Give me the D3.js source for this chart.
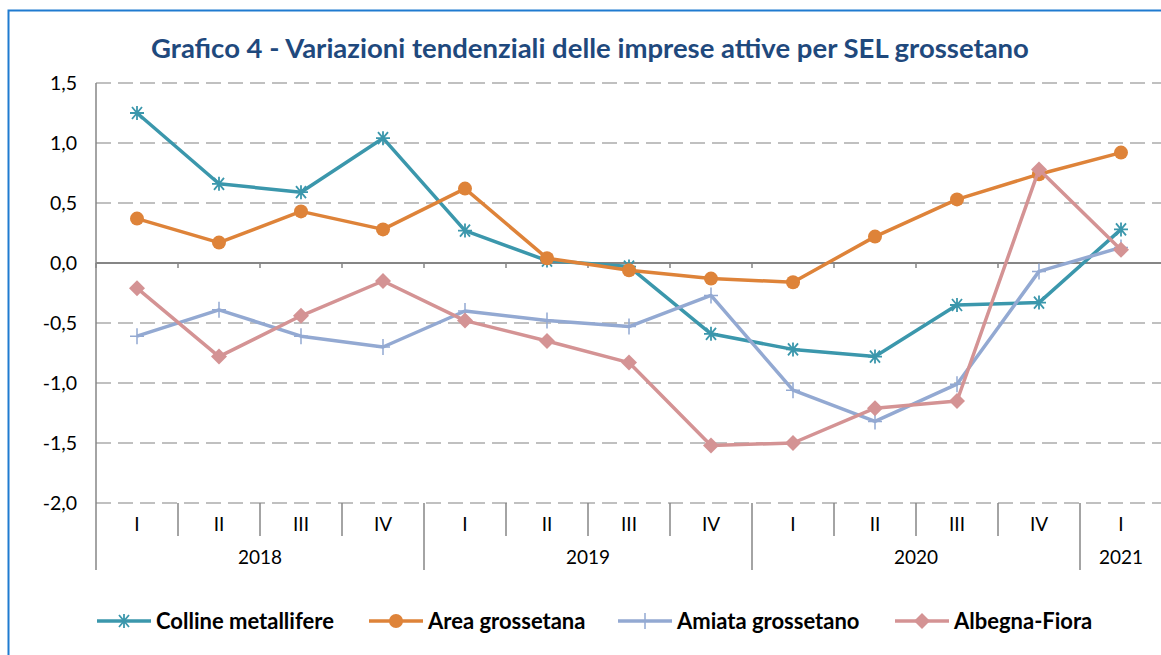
<!DOCTYPE html>
<meta charset="utf-8">
<style>
  body { margin: 0; background: #fff; }
  svg { display: block; font-family: "Lato", "Open Sans", sans-serif; }
</style>
<body>
<script src="https://cdn.jsdelivr.net/npm/d3@7"></script>
<script>

    var width = 1161,
        height = 655;

    // quarters and years
    var quarters = ["I", "II", "III", "IV", "I", "II", "III", "IV", "I", "II", "III", "IV", "I"];
    var years = ["2018", "2019", "2020", "2021"];
    var yearSpan = [4, 4, 4, 1];
    var yTicks = [1.5, 1.0, 0.5, 0.0, -0.5, -1.0, -1.5, -2.0];

    var colline = [1.25, 0.66, 0.59, 1.04, 0.27, 0.02, -0.03, -0.59, -0.72, -0.78, -0.35, -0.33, 0.28];
    var area = [0.37, 0.17, 0.43, 0.28, 0.62, 0.04, -0.06, -0.13, -0.16, 0.22, 0.53, 0.74, 0.92];
    var amiata = [-0.61, -0.39, -0.61, -0.70, -0.40, -0.48, -0.53, -0.27, -1.06, -1.32, -1.01, -0.07, 0.13];
    var albegna = [-0.21, -0.78, -0.44, -0.15, -0.48, -0.65, -0.83, -1.52, -1.50, -1.21, -1.15, 0.78, 0.11];

    var seriesNames = ["Colline metallifere", "Area grossetana", "Amiata grossetano", "Albegna-Fiora"];
    var seriesData = [colline, area, amiata, albegna];
    var colors = ["#3B97AC", "#DE8339", "#93A9D2", "#D49394"];
    var markers = ["star", "circle", "plus", "diamond"];

    var svg = d3.select("body").append("svg")
            .attr("width", width)
            .attr("height", height);

    // chart frame
    svg.append("rect")
            .attr("x", 8.5).attr("y", 10.5)
            .attr("width", width + 20).attr("height", height + 20)
            .attr("fill", "none")
            .attr("stroke", "#1F7BD0")
            .attr("stroke-width", 2);

    svg.append("text")
            .attr("x", 590).attr("y", 58)
            .attr("text-anchor", "middle")
            .attr("font-size", 27.5)
            .attr("font-weight", "bold")
            .attr("fill", "#1F497D")
            .text("Grafico 4 - Variazioni tendenziali delle imprese attive per SEL grossetano");

    var x = d3.scaleBand()
            .domain(d3.range(quarters.length))
            .range([96, 96 + 82 * quarters.length]);

    var y = d3.scaleLinear()
            .domain([-2, 1.5])
            .range([503, 83]);

    // gridlines
    svg.append("g").selectAll("line")
            .data(yTicks)
            .enter().append("line")
            .attr("x1", 96).attr("x2", width)
            .attr("y1", function(d) { return y(d); })
            .attr("y2", function(d) { return y(d); })
            .attr("stroke", "#C0C0C0")
            .attr("stroke-width", 2)
            .attr("stroke-dasharray", "15,7");

    // y labels
    svg.append("g").selectAll("text")
            .data(yTicks)
            .enter().append("text")
            .attr("x", 77)
            .attr("y", function(d) { return y(d) + 7; })
            .attr("text-anchor", "end")
            .attr("font-size", 19.5)
            .attr("fill", "#000")
            .text(function(d) { return d3.format(".1f")(d).replace(".", ",").replace("−", "-"); });

    var axisColor = "#868686";

    // y axis line
    svg.append("line")
            .attr("x1", 96).attr("x2", 96)
            .attr("y1", y(1.5)).attr("y2", 570)
            .attr("stroke", axisColor).attr("stroke-width", 1.5);

    // zero line with ticks
    svg.append("line")
            .attr("x1", 96).attr("x2", width)
            .attr("y1", y(0)).attr("y2", y(0))
            .attr("stroke", axisColor).attr("stroke-width", 2);

    var bounds = d3.range(quarters.length + 1).map(function(i) { return 96 + x.step() * i; });
    svg.append("g").selectAll("line")
            .data(bounds)
            .enter().append("line")
            .attr("x1", function(d) { return d; }).attr("x2", function(d) { return d; })
            .attr("y1", y(0)).attr("y2", y(0) + 5)
            .attr("stroke", axisColor).attr("stroke-width", 1.5);

    // bottom category ticks
    var yearBounds = [0];
    yearSpan.forEach(function(s, i) { yearBounds.push(yearBounds[i] + s); });

    svg.append("g").selectAll("line")
            .data(d3.range(1, quarters.length + 1))
            .enter().append("line")
            .attr("x1", function(i) { return 96 + x.step() * i; })
            .attr("x2", function(i) { return 96 + x.step() * i; })
            .attr("y1", 503)
            .attr("y2", function(i) { return yearBounds.indexOf(i) > 0 ? 570 : 536; })
            .attr("stroke", axisColor).attr("stroke-width", 1.5);

    svg.append("g").selectAll("text")
            .data(quarters)
            .enter().append("text")
            .attr("x", function(d, i) { return x(i) + x.bandwidth() / 2; })
            .attr("y", 531)
            .attr("text-anchor", "middle")
            .attr("font-size", 19)
            .text(function(d) { return d; });

    svg.append("g").selectAll("text")
            .data(years)
            .enter().append("text")
            .attr("x", function(d, i) {
                return 96 + x.step() * (yearBounds[i] + yearSpan[i] / 2);
            })
            .attr("y", 564)
            .attr("text-anchor", "middle")
            .attr("font-size", 19)
            .text(function(d) { return d; });

    function drawMarker(g, type, color) {
        if (type === "circle") {
            g.append("circle").attr("r", 7).attr("fill", color);
        } else if (type === "diamond") {
            g.append("path").attr("d", "M0,-8L8,0L0,8L-8,0Z").attr("fill", color);
        } else if (type === "plus") {
            g.append("path").attr("d", "M-7,0H7M0,-8V8")
                    .attr("stroke", color).attr("stroke-width", 1.5);
        } else {
            g.append("path").attr("d", "M-7,0H7M-5,-6L5,6M-5,6L5,-6M0,-7V7")
                    .attr("stroke", color).attr("stroke-width", 1.8);
        }
    }

    var line = d3.line()
            .x(function(d, i) { return x(i) + x.bandwidth() / 2; })
            .y(function(d) { return y(d); });

    seriesData.forEach(function(data, s) {
        var g = svg.append("g");
        g.append("path")
                .attr("d", line(data))
                .attr("fill", "none")
                .attr("stroke", colors[s])
                .attr("stroke-width", 3.5)
                .attr("stroke-linejoin", "round");
        data.forEach(function(d, i) {
            var m = g.append("g")
                    .attr("transform", "translate(" + (x(i) + x.bandwidth() / 2) + "," + y(d) + ")");
            drawMarker(m, markers[s], colors[s]);
        });
    });

    // legend
    var legendX = [97, 369, 618, 895];
    seriesNames.forEach(function(name, s) {
        var g = svg.append("g").attr("transform", "translate(" + legendX[s] + ",621)");
        g.append("line")
                .attr("x1", 0).attr("x2", 54)
                .attr("stroke", colors[s]).attr("stroke-width", 3.5);
        drawMarker(g.append("g").attr("transform", "translate(27,0)"), markers[s], colors[s]);
        g.append("text")
                .attr("x", 59).attr("y", 8)
                .attr("font-size", 22)
                .attr("font-weight", "bold")
                .text(name);
    });

</script>
